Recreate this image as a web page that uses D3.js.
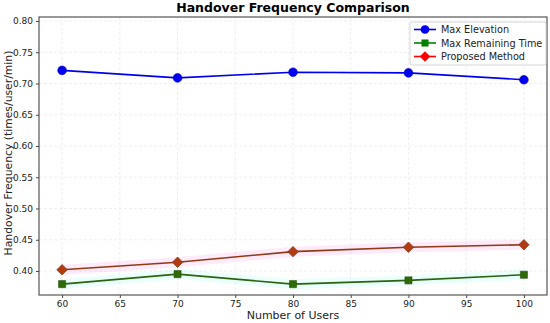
<!DOCTYPE html>
<html>
<head>
<meta charset="utf-8">
<script src="https://cdn.jsdelivr.net/npm/d3@7"></script>
<style>
  body { margin: 0; background: #fff; }
  text { font-family: "DejaVu Sans", sans-serif; }
</style>
</head>
<body>
<div id="chart"></div>
<script>
// chart data
const users = [60, 70, 80, 90, 100];
const maxElevation = [0.721, 0.709, 0.718, 0.717, 0.706];
const maxRemaining = [0.379, 0.395, 0.379, 0.385, 0.394];
const proposed = [0.402, 0.414, 0.431, 0.438, 0.442];
const bandHalf = 0.008;
const xTicks = [60, 65, 70, 75, 80, 85, 90, 95, 100];
const yTicks = [0.40, 0.45, 0.50, 0.55, 0.60, 0.65, 0.70, 0.75, 0.80];

const width = 550, height = 323;
const margin = {left: 39, right: 3, top: 17, bottom: 28};

const svg = d3.select('#chart').append('svg')
    .attr('width', width).attr('height', height);

const x = d3.scaleLinear().domain([58, 102]).range([margin.left, width - margin.right]);
const y = d3.scaleLinear().domain([0.3616, 0.8064]).range([height - margin.bottom, margin.top]);

// grid
svg.append('g').selectAll('line').data(xTicks).enter().append('line')
   .attr('x1', d => x(d)).attr('x2', d => x(d))
   .attr('y1', margin.top).attr('y2', height - margin.bottom)
   .attr('stroke', '#e8e8e8').attr('stroke-width', 0.7).attr('stroke-dasharray', '3,2');
svg.append('g').selectAll('line').data(yTicks).enter().append('line')
   .attr('y1', d => y(d)).attr('y2', d => y(d))
   .attr('x1', margin.left).attr('x2', width - margin.right)
   .attr('stroke', '#e8e8e8').attr('stroke-width', 0.7).attr('stroke-dasharray', '3,2');

// axes
const xAxis = svg.append('g')
    .attr('transform', `translate(0,${height - margin.bottom})`)
    .call(d3.axisBottom(x).tickValues(xTicks).tickSize(3).tickPadding(3).tickFormat(d3.format('d')));
const yAxis = svg.append('g')
    .attr('transform', `translate(${margin.left},0)`)
    .call(d3.axisLeft(y).tickValues(yTicks).tickSize(3).tickPadding(3).tickFormat(d3.format('.2f')));
[xAxis, yAxis].forEach(a => {
    a.select('.domain').remove();
    a.selectAll('text').style('font-size', '9px').attr('fill', '#222');
    a.selectAll('line').attr('stroke', '#444');
});

// frame
svg.append('rect')
   .attr('x', margin.left).attr('y', margin.top)
   .attr('width', width - margin.left - margin.right)
   .attr('height', height - margin.top - margin.bottom)
   .attr('fill', 'none').attr('stroke', '#555').attr('stroke-width', 1.2);

// faint bands
const band = d3.area()
    .x((d, i) => x(users[i]))
    .y0(d => y(d - bandHalf))
    .y1(d => y(d + bandHalf));
svg.append('path').datum(proposed).attr('d', band).attr('fill', '#ff33cc').attr('opacity', 0.1);
svg.append('path').datum(maxRemaining).attr('d', band).attr('fill', '#33ffdd').attr('opacity', 0.1);

const line = d3.line().x((d, i) => x(users[i])).y(d => y(d));

// matplotlib style 'D' marker: square turned 45 degrees
const diamond = {draw(ctx, size) {
    const r = Math.sqrt(size / 2);
    ctx.moveTo(0, -r); ctx.lineTo(r, 0); ctx.lineTo(0, r); ctx.lineTo(-r, 0); ctx.closePath();
}};

const series = [
    {name: 'Max Elevation', values: maxElevation, color: '#0000f0', fill: '#0000f0', edge: '#0000c0', shape: d3.symbolCircle, size: 60, legendFill: '#0000f0'},
    {name: 'Max Remaining Time', values: maxRemaining, color: '#2b640c', fill: '#2f6a06', edge: '#24500a', shape: d3.symbolSquare, size: 50, legendFill: '#008000'},
    {name: 'Proposed Method', values: proposed, color: '#8f3a14', fill: '#b23c10', edge: '#6e2a0a', shape: diamond, size: 55, legendFill: '#ff0000'}
];

series.forEach(s => {
    svg.append('path').datum(s.values).attr('d', line)
       .attr('fill', 'none').attr('stroke', s.color).attr('stroke-width', 1.6);
    svg.append('g').selectAll('path').data(s.values).enter().append('path')
       .attr('d', d3.symbol().type(s.shape).size(s.size))
       .attr('transform', (d, i) => `translate(${x(users[i])},${y(d)})`)
       .attr('fill', s.fill).attr('stroke', s.edge).attr('stroke-width', 0.6);
});

// legend
const lg = svg.append('g').attr('transform', 'translate(410,22)');
lg.append('rect').attr('width', 136).attr('height', 43).attr('rx', 2)
  .attr('fill', 'white').attr('fill-opacity', 0.85).attr('stroke', '#ccc').attr('stroke-width', 0.8);
series.forEach((s, i) => {
    const ly = 7.5 + i * 13.5;
    lg.append('line').attr('x1', 4).attr('x2', 26).attr('y1', ly).attr('y2', ly)
      .attr('stroke', s.legendFill).attr('stroke-width', 1.6);
    lg.append('path').attr('d', d3.symbol().type(s.shape).size(s.size))
      .attr('transform', `translate(15,${ly})`).attr('fill', s.legendFill);
    lg.append('text').attr('x', 31).attr('y', ly + 3.5).style('font-size', '9.7px')
      .attr('fill', '#222').text(s.name);
});

// titles
svg.append('text').attr('x', (margin.left + width - margin.right) / 2).attr('y', 12)
   .attr('text-anchor', 'middle').style('font-size', '12.5px').style('font-weight', 'bold')
   .text('Handover Frequency Comparison');
svg.append('text').attr('x', (margin.left + width - margin.right) / 2).attr('y', 319)
   .attr('text-anchor', 'middle').style('font-size', '11px').attr('fill', '#222')
   .text('Number of Users');
svg.append('text')
   .attr('transform', `translate(12,153) rotate(-90)`)
   .attr('text-anchor', 'middle').style('font-size', '10.8px').attr('fill', '#222')
   .text('Handover Frequency (times/user/min)');
</script>
</body>
</html>
